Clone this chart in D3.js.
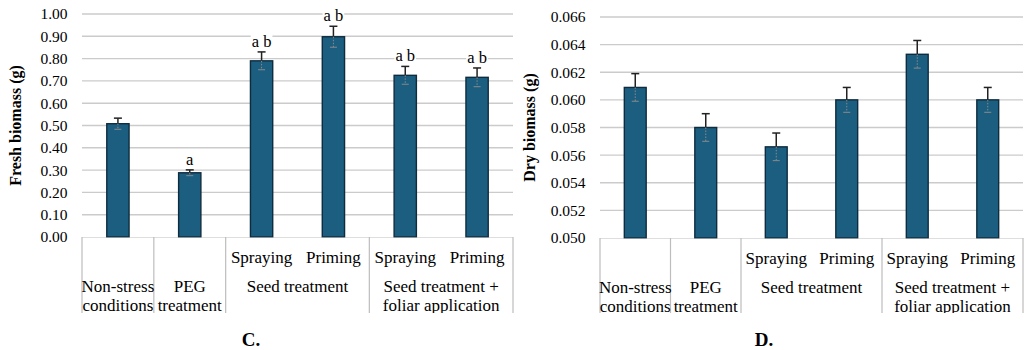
<!DOCTYPE html>
<html>
<head>
<meta charset="utf-8">
<script src="https://cdn.jsdelivr.net/npm/d3@7"></script>
<style>
  body { margin: 0; background: #fff; }
</style>
</head>
<body>
<div id="chart"></div>
<script>
// treatments, inner level of the category axis
const subLabels = ["", "", "Spraying", "Priming", "Spraying", "Priming"];
// outer level: label lines and [first, last+1] category index
const groupLabels = [["Non-stress", "conditions"], ["PEG", "treatment"], ["Seed treatment"], ["Seed treatment +", "foliar application"]];
const groupSpans = [[0, 1], [1, 2], [2, 4], [4, 6]];

// C. fresh biomass
const freshValues = [0.508, 0.288, 0.790, 0.898, 0.725, 0.716];
const freshErrors = [0.025, 0.013, 0.040, 0.047, 0.040, 0.042];
const freshLetters = ["", "a", "a b", "a b", "a b", "a b"];
const freshTicks = [0, 0.1, 0.2, 0.3, 0.4, 0.5, 0.6, 0.7, 0.8, 0.9, 1.0];

// D. dry biomass
const dryValues = [0.0609, 0.0580, 0.0566, 0.0600, 0.0633, 0.0600];
const dryErrors = [0.0010, 0.0010, 0.0010, 0.0009, 0.0010, 0.0009];
const dryLetters = ["", "", "", "", "", ""];
const dryTicks = [0.050, 0.052, 0.054, 0.056, 0.058, 0.060, 0.062, 0.064, 0.066];

const FONT = '"Liberation Serif"';

const svg = d3.select("#chart").append("svg")
    .attr("width", 1033)
    .attr("height", 350);

// every label goes through here so the serif face is set on the element itself
function label(sel, size, bold) {
    return sel.style("font-family", FONT)
        .style("font-size", size + "px")
        .style("font-weight", bold ? "bold" : "normal")
        .attr("fill", "#000");
}

function drawPanel(opt) {

    const g = svg.append("g");
    const x = d3.scaleBand().domain(d3.range(subLabels.length)).range([opt.left, opt.right]).padding(0);
    const y = d3.scaleLinear().domain(opt.domain).range([opt.bottom, opt.top]);
    const barW = x.bandwidth() * 0.31;

    // gridlines
    g.append("g").selectAll("line").data(opt.ticks.slice(1)).join("line")
        .attr("x1", opt.left).attr("x2", opt.right)
        .attr("y1", d => y(d)).attr("y2", d => y(d))
        .attr("stroke", "#cbcbcb").attr("stroke-width", 1.4);

    // tick labels
    const ax = g.append("g").attr("transform", `translate(${opt.left},0)`)
        .call(d3.axisLeft(y).tickValues(opt.ticks).tickFormat(opt.format).tickSize(0).tickPadding(14.5));
    ax.select(".domain").remove();
    label(ax.selectAll("text"), 15.5);

    // axis title
    label(g.append("text"), 16, true)
        .attr("transform", `translate(${opt.titleX},${(opt.top + opt.bottom) / 2}) rotate(-90)`)
        .attr("text-anchor", "middle")
        .text(opt.title);

    // bars
    g.append("g").selectAll("rect").data(opt.values).join("rect")
        .attr("x", (d, i) => x(i) + (x.bandwidth() - barW) / 2)
        .attr("y", d => y(d))
        .attr("width", barW)
        .attr("height", d => y(opt.domain[0]) - y(d))
        .attr("fill", "#1b5e80")
        .attr("stroke", "#0f2c3f").attr("stroke-width", 1.4);

    // error bars: solid upper half, dotted lower half inside the bar
    const eb = g.append("g");
    opt.values.forEach((v, i) => {
        const cx = x(i) + x.bandwidth() / 2;
        const hi = y(v + opt.errors[i]), lo = y(v - opt.errors[i]);
        eb.append("line").attr("x1", cx).attr("x2", cx).attr("y1", y(v)).attr("y2", hi)
            .attr("stroke", "#222").attr("stroke-width", 1.5);
        eb.append("line").attr("x1", cx - 4).attr("x2", cx + 4).attr("y1", hi).attr("y2", hi)
            .attr("stroke", "#222").attr("stroke-width", 1.5);
        eb.append("line").attr("x1", cx).attr("x2", cx).attr("y1", y(v)).attr("y2", lo)
            .attr("stroke", "#8a8a8a").attr("stroke-width", 1).attr("stroke-dasharray", "1.5,1.5");
        eb.append("line").attr("x1", cx - 3.5).attr("x2", cx + 3.5).attr("y1", lo).attr("y2", lo)
            .attr("stroke", "#8a8a8a").attr("stroke-width", 1);

        if (opt.letters[i]) {
            const t = label(eb.append("text"), 16.5)
                .attr("x", cx).attr("y", hi - 5)
                .attr("text-anchor", "middle")
                .text(opt.letters[i]);
            const bb = t.node().getBBox();
            eb.insert("rect", () => t.node())
                .attr("x", bb.x - 1).attr("y", bb.y + 2).attr("width", bb.width + 2).attr("height", bb.height - 4)
                .attr("fill", "#fff");
        }
    });

    // category axis box
    const clipId = "clip" + opt.name;
    g.append("clipPath").attr("id", clipId).append("rect")
        .attr("x", opt.left - 2).attr("y", opt.bottom).attr("width", opt.right - opt.left + 4).attr("height", opt.axisBottom - opt.bottom);
    const cat = g.append("g").attr("clip-path", `url(#${clipId})`);

    cat.append("line")
        .attr("x1", opt.left).attr("x2", opt.right).attr("y1", opt.bottom).attr("y2", opt.bottom)
        .attr("stroke", "#bdbdbd").attr("stroke-width", 1.2);

    const seps = [groupSpans[0][0]].concat(groupSpans.map(s => s[1]));
    cat.selectAll("line.sep").data(seps).join("line").attr("class", "sep")
        .attr("x1", d => d === subLabels.length ? opt.right : x(d))
        .attr("x2", d => d === subLabels.length ? opt.right : x(d))
        .attr("y1", opt.bottom).attr("y2", opt.axisBottom)
        .attr("stroke", "#bdbdbd").attr("stroke-width", 1.2);

    label(cat.selectAll("text.sub").data(subLabels).join("text").attr("class", "sub"), 17)
        .attr("x", (d, i) => x(i) + x.bandwidth() / 2)
        .attr("y", opt.bottom + 26)
        .attr("text-anchor", "middle")
        .text(d => d);

    groupLabels.forEach((lines, k) => {
        const cx = (x(groupSpans[k][0]) + x(groupSpans[k][1] - 1) + x.bandwidth()) / 2;
        lines.forEach((ln, j) => {
            label(cat.append("text"), 17)
                .attr("x", cx).attr("y", opt.bottom + 55 + j * 19)
                .attr("text-anchor", "middle")
                .text(ln);
        });
    });

    // panel letter
    label(g.append("text"), 19, true)
        .attr("x", opt.letterX).attr("y", 346)
        .attr("text-anchor", "middle")
        .text(opt.name + ".");
}

drawPanel({
    name: "C", title: "Fresh biomass (g)",
    values: freshValues, errors: freshErrors, letters: freshLetters,
    ticks: freshTicks, domain: [0, 1], format: d3.format(".2f"),
    left: 82, right: 513, top: 14, bottom: 237, axisBottom: 313,
    titleX: 21, letterX: 251
});

drawPanel({
    name: "D", title: "Dry biomass (g)",
    values: dryValues, errors: dryErrors, letters: dryLetters,
    ticks: dryTicks, domain: [0.050, 0.066], format: d3.format(".3f"),
    left: 600, right: 1023, top: 17, bottom: 238, axisBottom: 313,
    titleX: 535, letterX: 764
});
</script>
</body>
</html>
